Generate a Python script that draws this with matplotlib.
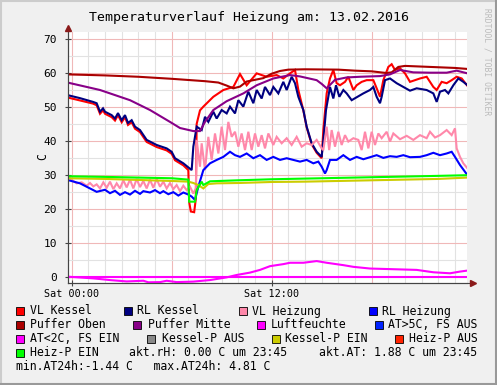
import matplotlib
matplotlib.use("Agg")
import matplotlib.pyplot as plt
from matplotlib.patches import Rectangle
from matplotlib.lines import Line2D

W, H = 497, 385
MONO = "DejaVu Sans Mono"

# ---- data (hours since Sat 00:00, values in C) ----
kessel_vl_t = [-0.25, 1.28, 1.5, 1.7, 1.88, 2.0, 2.4, 2.6, 2.78, 3.0, 3.2, 3.38, 3.6, 3.8, 4.1,
               4.5, 5.1, 5.7, 6.0, 6.2, 6.7, 7.0, 7.05, 7.15, 7.35, 7.45, 7.5, 7.7, 7.9, 8.5,
               9.1, 9.7, 10.1, 10.5, 11.1, 11.7, 12.3, 12.7, 13.1, 13.4, 13.6, 13.9, 14.1, 14.4,
               14.7, 15.0, 15.1, 15.3, 15.5, 15.7, 15.9, 16.1, 16.4, 16.6, 16.9, 17.1, 17.4, 17.7,
               18.1, 18.3, 18.5, 18.7, 19.0, 19.2, 19.4, 19.7, 20.0, 20.3, 20.6, 20.9, 21.3, 21.7,
               21.9, 22.2, 22.5, 22.8, 23.1, 23.4, 23.75]
kessel_vl = [52.8, 51.0, 50.5, 48.0, 49.0, 48.0, 47.0, 46.0, 47.6, 45.5, 47.0, 44.7, 45.5, 43.6, 42.6,
             39.7, 38.2, 37.2, 36.2, 34.3, 32.8, 31.4, 22.0, 19.2, 19.0, 23.0, 45.0, 49.0, 50.1, 53.0,
             55.0, 55.9, 59.7, 56.4, 59.9, 58.9, 59.4, 58.4, 59.9, 60.9, 55.0, 49.0, 44.0, 39.0,
             36.5, 34.9, 43.2, 54.0, 58.4, 60.9, 57.0, 56.4, 57.4, 58.9, 55.0, 56.4, 57.4, 57.9,
             57.9, 55.5, 53.0, 57.9, 61.8, 62.6, 60.9, 61.4, 59.9, 57.4, 57.9, 58.4, 58.9, 55.9,
             55.0, 57.4, 57.0, 57.9, 58.9, 58.4, 56.2]

kessel_rl_t = [-0.25, 0.5, 1.28, 1.5, 1.7, 1.88, 2.0, 2.4, 2.6, 2.78, 3.0, 3.2, 3.38, 3.6, 3.8, 4.1,
               4.5, 5.1, 5.7, 6.0, 6.2, 6.7, 7.2, 7.3, 7.5, 7.8, 8.0, 8.2, 8.5, 8.7, 9.0, 9.3, 9.5,
               9.8, 10.0, 10.3, 10.6, 10.9, 11.1, 11.4, 11.6, 11.9, 12.1, 12.4, 12.7, 12.9, 13.2,
               13.4, 13.6, 13.9, 14.1, 14.4, 14.7, 15.0, 15.14, 15.26, 15.4, 15.5, 15.7, 15.86,
               16.06, 16.3, 16.5, 16.8, 17.5, 17.9, 18.1, 18.3, 18.5, 18.6, 18.8, 19.1, 19.5, 19.9,
               20.3, 20.7, 21.3, 21.7, 21.9, 22.1, 22.4, 22.6, 22.9, 23.2, 23.5, 23.75]
kessel_rl = [53.5, 52.6, 51.5, 51.1, 48.6, 49.6, 48.6, 47.6, 46.6, 48.2, 46.1, 47.6, 45.3, 46.1, 44.2, 43.2,
             40.3, 38.8, 37.8, 36.8, 34.9, 33.4, 31.4, 38.3, 44.2, 43.2, 47.1, 45.6, 48.6, 46.6, 49.1, 48.1, 50.1,
             48.1, 52.0, 50.1, 54.5, 51.1, 55.0, 52.5, 55.9, 53.5, 55.9, 54.0, 57.4, 55.0, 58.9,
             57.0, 53.0, 49.1, 44.2, 39.3, 36.8, 35.3, 42.2, 49.1, 53.0, 55.9, 52.5, 56.4,
             53.0, 55.0, 54.0, 52.0, 54.0, 55.0, 55.9, 53.0, 51.1, 53.0, 57.9, 58.4, 57.0, 55.9,
             54.8, 55.5, 55.0, 54.0, 51.5, 54.5, 55.0, 54.0, 56.4, 58.4, 57.4, 56.4]

heiz_vl_t = [-0.25, 0.0, 0.3, 0.6, 0.9, 1.1, 1.3, 1.5, 1.7, 1.9, 2.1, 2.3, 2.5, 2.7, 2.9, 3.1, 3.3,
             3.5, 3.7, 3.9, 4.1, 4.3, 4.5, 4.7, 4.9, 5.1, 5.3, 5.5, 5.7, 5.9, 6.1, 6.3, 6.5, 6.7,
             6.9, 7.1, 7.3, 7.45, 7.5, 7.7, 7.8, 8.0, 8.2, 8.4, 8.6, 8.8, 9.0, 9.2, 9.4, 9.6, 9.8,
             10.0, 10.2, 10.4, 10.6, 10.8, 11.0, 11.2, 11.4, 11.6, 11.8, 12.1, 12.3, 12.6, 12.9,
             13.2, 13.5, 13.8, 14.1, 14.4, 14.7, 15.0, 15.1, 15.3, 15.45, 15.6, 15.8, 16.0, 16.2,
             16.4, 16.6, 16.9, 17.2, 17.4, 17.6, 17.8, 18.0, 18.2, 18.4, 18.6, 18.9, 19.1, 19.3,
             19.7, 20.1, 20.5, 20.9, 21.3, 21.5, 21.8, 22.1, 22.5, 22.8, 23.0, 23.1, 23.3, 23.5, 23.75]
heiz_vl = [29.9, 28.5, 27.5, 27.8, 26.8, 27.6, 26.6, 27.2, 26.0, 27.8, 26.2, 28.0, 25.8, 27.5, 26.0, 28.4, 26.3,
           28.6, 26.0, 28.8, 26.4, 28.2, 26.0, 28.6, 26.2, 28.8, 26.5, 28.0, 26.0, 27.6, 25.8, 27.0, 25.2, 26.8,
           25.5, 26.5, 24.5, 26.0, 40.3, 32.4, 39.3, 31.4, 41.2, 34.4, 42.2, 36.3, 44.2, 37.3, 45.6, 41.2, 42.7,
           38.3, 42.2, 37.3, 42.7, 37.3, 42.2, 38.3, 41.7, 37.8, 42.2, 38.8, 41.2, 39.3, 40.8,
           38.8, 41.2, 38.3, 39.3, 38.8, 40.3, 37.8, 37.3, 44.2, 37.3, 43.2, 38.3, 42.7, 38.8,
           41.7, 39.8, 40.8, 40.3, 37.3, 42.7, 37.8, 42.7, 38.8, 42.2, 40.8, 42.7, 39.8, 42.2,
           40.5, 41.5, 40.3, 41.7, 40.8, 42.7, 41.0, 41.7, 43.2, 41.7, 43.7, 37.8, 35.3, 33.4, 31.9]

heiz_rl_t = [-0.25, 0.5, 1.1, 1.5, 2.0, 2.3, 2.6, 2.9, 3.2, 3.5, 3.8, 4.1, 4.3, 4.7, 5.0, 5.3, 5.5,
             5.8, 6.1, 6.4, 6.7, 7.0, 7.2, 7.4, 7.6, 7.9, 8.3, 8.7, 9.1, 9.5, 9.8, 10.1, 10.5, 10.9,
             11.3, 11.7, 12.1, 12.5, 12.9, 13.3, 13.7, 14.1, 14.5, 14.8, 15.0, 15.2, 15.3, 15.5,
             15.9, 16.3, 16.7, 17.1, 17.5, 17.9, 18.3, 18.7, 19.1, 19.5, 19.9, 20.3, 20.9, 21.3,
             21.7, 22.1, 22.5, 22.8, 23.0, 23.3, 23.6, 23.75]
heiz_rl = [28.5, 27.5, 26.0, 25.0, 25.6, 24.6, 25.3, 24.1, 24.9, 24.2, 25.3, 24.4, 25.2, 24.8, 25.5, 24.6, 25.2,
           24.3, 24.9, 23.9, 24.8, 24.2, 23.6, 22.6, 26.5, 31.4, 33.4, 34.4, 35.3, 36.8, 35.8, 35.3, 36.3, 34.9,
           35.8, 34.4, 35.3, 34.4, 34.9, 34.4, 33.9, 34.4, 33.4, 33.9, 32.4, 30.4, 31.4, 34.4,
           34.4, 35.8, 34.4, 35.3, 34.6, 35.2, 35.8, 35.0, 35.5, 35.3, 35.8, 35.2, 35.3, 35.8,
           36.5, 35.8, 36.3, 36.8, 35.3, 32.9, 30.9, 29.9]

puffer_oben_t = [-0.25, 2, 4, 6, 8, 8.8, 9.3, 9.7, 10.1, 10.5, 11, 11.5, 12, 12.5, 13, 14, 16, 17,
                 18, 18.9, 19.2, 19.6, 20, 21, 22, 23, 23.75]
puffer_oben = [59.6, 59.3, 58.9, 58.3, 57.6, 57.2, 56.3, 55.5, 56.0, 57.5, 58.0, 58.5, 59.8, 60.6, 61.0,
               61.1, 61.0, 60.7, 60.5, 60.0, 60.2, 61.8, 62.1, 61.9, 61.7, 61.5, 61.2]

puffer_mitte_t = [-0.25, 1.7, 3.5, 4.7, 5.9, 6.5, 7.3, 7.7, 8.0, 8.5, 9.3, 10.3, 11.1, 12.1, 13.1, 13.7,
                  14.7, 15.0, 15.3, 15.8, 16.5, 17.3, 18.5, 19.1, 19.7, 20.5, 21.5, 22.5, 23.1, 23.75]
puffer_mitte = [57.2, 55.0, 52.0, 49.1, 45.6, 43.8, 42.9, 42.9, 45.6, 49.1, 51.7, 54.0, 56.4, 58.4, 59.4, 59.0,
                57.9, 56.8, 55.5, 58.0, 58.7, 58.9, 59.1, 59.6, 60.9, 60.2, 60.1, 60.1, 60.7, 59.9]

luft_t = [-0.25, 23.75]
luft = [0.0, 0.0]

at_t = [-0.25, 1.3, 2.3, 3.3, 4.3, 4.6, 5.3, 5.7, 6.3, 7.3, 8.3, 9.3, 9.9, 10.7, 11.3, 11.9, 12.7,
        13.1, 13.9, 14.7, 15.3, 16.3, 16.9, 17.9, 19.3, 20.7, 21.7, 22.7, 23.3, 23.75]
at_vals = [0.0, -0.5, -1.0, -1.4, -1.2, -1.65, -1.6, -1.2, -1.6, -1.45, -1.0, -0.2, 0.5, 1.2, 2.0, 3.1, 3.7,
           4.1, 4.1, 4.6, 4.1, 3.4, 2.9, 2.4, 2.2, 2.0, 1.3, 1.0, 1.5, 1.8]

kp_ein_t = [-0.25, 2, 4, 6, 7.0, 7.3, 7.6, 7.9, 8.2, 8.7, 10, 12, 14, 16, 18, 20, 22, 23.75]
kp_ein = [29.0, 28.8, 28.5, 28.2, 28.0, 27.6, 27.0, 26.0, 27.3, 27.5, 27.6, 27.9, 28.0, 28.2, 28.4, 28.6, 28.8, 29.2]

hp_ein_t = [-0.25, 2, 4, 6, 7.0, 7.05, 7.4, 7.5, 7.8, 7.9, 8.3, 10, 12, 14, 16, 18, 20, 22, 23.75]
hp_ein = [29.6, 29.4, 29.2, 29.0, 28.6, 22.1, 22.1, 25.5, 28.0, 27.0, 28.1, 28.4, 28.7, 28.9, 29.1, 29.3, 29.5, 29.7, 29.9]

# legend
legend_names = ["VL Kessel", "RL Kessel", "VL Heizung", "RL Heizung",
                "Puffer Oben", "Puffer Mitte", "Luftfeuchte", "AT>5C, FS AUS",
                "AT<2C, FS EIN", "Kessel-P AUS", "Kessel-P EIN", "Heiz-P AUS",
                "Heiz-P EIN"]
legend_colors = ["#FF0000", "#000080", "#FF88AA", "#0000FF",
                 "#AA0000", "#880088", "#FF00FF", "#0022FF",
                 "#FF00FF", "#888888", "#CCCC00", "#FF2200",
                 "#00FF00"]
akt_rh = "akt.rH: 0.00 C um 23:45"
akt_at = "akt.AT: 1.88 C um 23:45"
minmax = "min.AT24h:-1.44 C   max.AT24h: 4.81 C"


def fx(x):
    return x / W


def fy(y):
    return 1 - y / H


fig = plt.figure(figsize=(W / 100, H / 100), dpi=100, facecolor="#F0F0F0")
ax = fig.add_axes([fx(68), fy(283.3), fx(467) - fx(68), fy(32.3) - fy(283.3)])
ax.set_facecolor("white")
ax.set_xlim(-0.22, 23.72)
ax.set_ylim(-1.95, 72.0)

# grid
for h in range(0, 24):
    c = "#F0B8B8" if h % 6 == 0 else "#E2E2E2"
    ax.axvline(h, color=c, lw=0.8, zorder=0)
for v in range(0, 71, 5):
    c = "#F0B8B8" if v % 10 == 0 else "#E2E2E2"
    ax.axhline(v, color=c, lw=0.8, zorder=0)

lw = 1.5
series = [
    (kessel_vl_t, kessel_vl, legend_colors[0]),
    (kessel_rl_t, kessel_rl, legend_colors[1]),
    (heiz_vl_t, heiz_vl, legend_colors[2]),
    (heiz_rl_t, heiz_rl, legend_colors[3]),
    (puffer_oben_t, puffer_oben, legend_colors[4]),
    (puffer_mitte_t, puffer_mitte, legend_colors[5]),
    (luft_t, luft, legend_colors[6]),
    (at_t, at_vals, legend_colors[8]),
    (kp_ein_t, kp_ein, legend_colors[10]),
    (hp_ein_t, hp_ein, legend_colors[12]),
]
for i, (t, v, c) in enumerate(series):
    ax.plot(t, v, color=c, lw=lw, zorder=2 + i, solid_joinstyle="miter")

# axes
for s in ["top", "right"]:
    ax.spines[s].set_visible(False)
for s in ["left", "bottom"]:
    ax.spines[s].set_color("#444444")
    ax.spines[s].set_linewidth(0.8)
ax.set_yticks(range(0, 71, 10))
ax.set_yticklabels([str(v) for v in range(0, 71, 10)], fontfamily=MONO, fontsize=8)
ax.set_xticks([0, 12])
ax.set_xticklabels(["Sat 00:00", "Sat 12:00"], fontfamily=MONO, fontsize=7.3)
ax.tick_params(axis="both", direction="inout", length=4, width=0.8, color="#444444",
               labelcolor="black", pad=2)
ax.tick_params(axis="y", pad=6)

# axis arrows
fig.add_artist(Line2D([fx(68), fx(68)], [fy(283), fy(27)], color="#444444", lw=0.8))
fig.add_artist(Line2D([fx(68), fx(472)], [fy(283.3), fy(283.3)], color="#444444", lw=0.8))
fig.add_artist(Line2D([fx(68)], [fy(28)], marker="^", color="#8B1A1A", markersize=4, lw=0))
fig.add_artist(Line2D([fx(473)], [fy(283.3)], marker=">", color="#8B1A1A", markersize=4, lw=0))

fig.text(fx(43), fy(157), "C", rotation=90, ha="center", va="center", fontfamily=MONO, fontsize=8.3)
fig.text(fx(249), fy(17), "Temperaturverlauf Heizung am: 13.02.2016", ha="center", va="center",
         fontfamily=MONO, fontsize=9.5)
fig.text(fx(487), fy(62), "RRDTOOL / TOBI OETIKER", rotation=270, ha="center", va="center",
         fontfamily=MONO, fontsize=5.8, color="#BBBBBB")

# legend
rows_y = [311, 325, 339, 353, 367]
sw_x = [[16, 124, 239, 369], [16, 133, 257, 375], [16, 147, 272, 395], [16]]
tx_x = [[30, 137, 252, 382], [30, 148, 271, 388], [30, 162, 285, 409], [30]]
k = 0
for r in range(4):
    for j in range(len(sw_x[r])):
        y = rows_y[r]
        fig.add_artist(Rectangle((fx(sw_x[r][j]), fy(y + 4)), 8 / W, 8 / H, transform=fig.transFigure,
                                 facecolor=legend_colors[k], edgecolor="black", lw=0.6))
        fig.text(fx(tx_x[r][j]), fy(y), legend_names[k], ha="left", va="center",
                 fontfamily=MONO, fontsize=8.3)
        k += 1
fig.text(fx(129), fy(353), akt_rh, ha="left", va="center", fontfamily=MONO, fontsize=8.3)
fig.text(fx(319), fy(353), akt_at, ha="left", va="center", fontfamily=MONO, fontsize=8.3)
fig.text(fx(16), fy(367), minmax, ha="left", va="center", fontfamily=MONO, fontsize=8.3)

# frame
fig.add_artist(Line2D([0, 1], [fy(0.5), fy(0.5)], color="#CCCCCC", lw=1.5))
fig.add_artist(Line2D([fx(0.5), fx(0.5)], [0, 1], color="#CCCCCC", lw=1.5))
fig.add_artist(Line2D([0, 1], [fy(384), fy(384)], color="#999999", lw=1.5))
fig.add_artist(Line2D([fx(496), fx(496)], [0, 1], color="#999999", lw=1.5))

fig.savefig("out.png", dpi=100, facecolor=fig.get_facecolor())
